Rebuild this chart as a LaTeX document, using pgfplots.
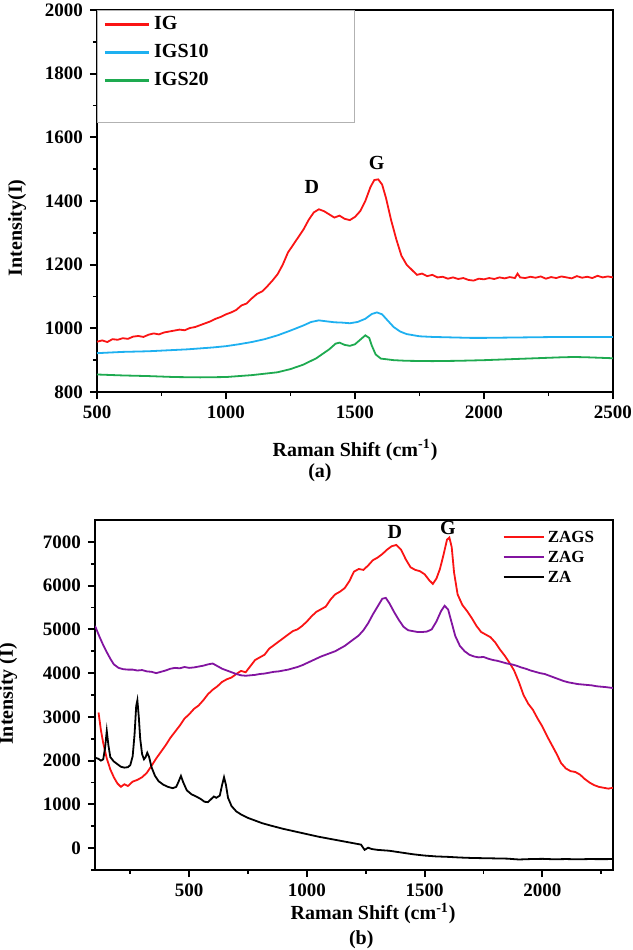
\documentclass[border=0pt]{standalone}
\usepackage{fontspec}
\setmainfont{Liberation Serif}
\usepackage{pgfplots}
\pgfplotsset{compat=1.18}

\definecolor{igred}{RGB}{250,20,20}
\definecolor{igblue}{RGB}{30,176,240}
\definecolor{iggreen}{RGB}{30,170,80}
\definecolor{zagpurple}{RGB}{130,20,160}

\pgfplotsset{
  raman/.style={
    scale only axis,
    clip mode=individual,
    axis line style={line width=1pt},
    tick align=outside,
    tick pos=left,
    major tick length=3.5pt,
    minor tick length=2pt,
    every tick/.append style={line width=0.9pt, black},
    /pgf/number format/1000 sep={},
    /pgf/number format/assume math mode=true,
    tick label style={font=\fontsize{9.5}{11}\selectfont\bfseries},
    label style={font=\fontsize{10}{12}\selectfont\bfseries},
    every axis plot/.append style={line width=0.9pt},
    legend cell align=left,
  },
}

\begin{document}
\begin{tikzpicture}
\useasboundingbox (0,0) rectangle (316.5pt,475pt);

% ---- panel (a)
\begin{axis}[raman,
  at={(48.5pt,279pt)}, anchor=south west,
  width=258pt, height=191pt,
  xmin=500, xmax=2500, ymin=800, ymax=2000,
  xtick={500,1000,...,2500}, minor xtick={750,1250,...,2250},
  ytick={800,1000,...,2000}, minor ytick={900,1100,...,1900},
  xlabel={Raman Shift (cm\textsuperscript{-1})},
  ylabel={Intensity(I)},
  xlabel style={at={(axis description cs:0.5,-0.152)}, anchor=center},
  ylabel style={at={(axis description cs:-0.155,0.43)}, anchor=center},
  legend style={at={(rel axis cs:0,1)}, anchor=north west, draw=none, fill=none,
    font=\fontsize{10}{12}\selectfont\bfseries, inner xsep=3pt, inner ysep=0pt,
    nodes={inner sep=2pt, text height=7.5pt, text depth=2.5pt}},
  legend image code/.code={\draw[#1, line width=1.4pt] (0pt,0pt) -- (22pt,0pt);},
]
\addplot[igred] table {
500 958
520 962
540 957
560 966
580 964
600 969
620 967
640 974
660 976
680 973
700 980
720 984
740 981
760 987
780 990
800 993
820 996
840 994
860 1001
880 1004
900 1010
920 1016
940 1022
960 1030
980 1036
1000 1044
1020 1050
1040 1058
1060 1072
1080 1078
1100 1094
1120 1108
1140 1116
1160 1132
1180 1150
1200 1170
1220 1200
1240 1238
1260 1262
1280 1286
1300 1310
1320 1340
1340 1364
1360 1374
1380 1368
1400 1358
1420 1348
1440 1354
1460 1344
1480 1340
1500 1350
1520 1368
1540 1400
1560 1444
1575 1466
1590 1468
1605 1452
1620 1410
1640 1340
1660 1280
1680 1228
1700 1200
1720 1184
1740 1168
1760 1172
1780 1164
1800 1168
1820 1160
1840 1162
1860 1156
1880 1160
1900 1155
1920 1158
1940 1152
1960 1150
1980 1156
2000 1154
2020 1158
2040 1155
2060 1160
2080 1157
2100 1161
2120 1158
2130 1172
2140 1160
2160 1158
2180 1162
2200 1159
2220 1163
2240 1156
2260 1161
2280 1158
2300 1163
2320 1160
2340 1157
2360 1164
2380 1159
2400 1162
2420 1158
2440 1165
2460 1160
2480 1163
2500 1160
};
\addlegendentry{IG}
\addplot[igblue] table {
500 922
550 924
600 926
650 927
700 928
750 930
800 932
850 934
900 937
950 940
1000 944
1050 950
1100 957
1150 966
1200 978
1250 993
1300 1009
1330 1020
1360 1025
1390 1022
1420 1019
1450 1018
1480 1016
1510 1020
1540 1030
1565 1045
1585 1050
1605 1044
1625 1026
1650 1004
1675 990
1700 982
1750 975
1800 973
1850 972
1900 971
1950 970
2000 970
2100 971
2200 972
2300 973
2400 973
2500 973
};
\addlegendentry{IGS10}
\addplot[iggreen] table {
500 855
600 852
700 850
800 847
900 846
1000 847
1100 853
1200 862
1250 872
1300 886
1350 906
1400 934
1425 952
1440 955
1460 948
1480 945
1500 950
1520 964
1540 978
1555 970
1565 946
1580 918
1600 905
1650 900
1700 898
1800 897
1900 898
2000 900
2100 903
2200 906
2300 909
2350 910
2400 909
2500 906
};
\addlegendentry{IGS20}
\draw[gray!60, line width=0.4pt] (rel axis cs:0,1) rectangle (rel axis cs:0.498,0.707);
\node[font=\fontsize{10}{12}\selectfont\bfseries] at (axis cs:1333,1443) {D};
\node[font=\fontsize{10}{12}\selectfont\bfseries] at (axis cs:1584,1518) {G};
\node[font=\fontsize{10}{12}\selectfont\bfseries] at (rel axis cs:0.432,-0.212) {(a)};
\end{axis}

% ---- panel (b)
\begin{axis}[raman,
  at={(47.5pt,40pt)}, anchor=south west,
  width=259pt, height=175pt,
  xmin=100, xmax=2300, ymin=-500, ymax=7500,
  xtick={500,1000,...,2000}, minor xtick={250,750,...,2250},
  ytick={0,1000,...,7000}, minor ytick={-500,500,...,6500},
  xlabel={Raman Shift (cm\textsuperscript{-1})},
  ylabel={Intensity (I)},
  xlabel style={at={(axis description cs:0.537,-0.124)}, anchor=center},
  ylabel style={at={(axis description cs:-0.168,0.503)}, anchor=center},
  legend style={at={(rel axis cs:0.78,0.995)}, anchor=north west, draw=none, fill=none,
    font=\fontsize{8.5}{10}\selectfont\bfseries, inner xsep=1.5pt, inner ysep=2.5pt,
    nodes={inner sep=1.5pt, text height=6pt, text depth=1pt}},
  legend image code/.code={\draw[#1, line width=1.2pt] (0pt,0pt) -- (20pt,0pt);},
]
\addplot[igred] table {
115 3100
125 2700
135 2400
150 2050
165 1800
180 1620
195 1480
210 1400
225 1460
240 1420
260 1520
280 1560
300 1620
320 1720
340 1880
360 2050
380 2200
400 2350
420 2520
440 2660
460 2800
480 2960
500 3060
520 3180
540 3260
560 3380
580 3520
600 3620
620 3700
640 3800
660 3860
680 3900
700 3980
720 4050
740 4020
760 4160
780 4300
800 4360
820 4420
840 4560
860 4640
880 4720
900 4800
920 4880
940 4960
960 5000
980 5080
1000 5180
1020 5300
1040 5400
1060 5460
1080 5520
1100 5680
1120 5800
1140 5860
1160 5940
1180 6100
1200 6320
1220 6380
1240 6360
1260 6460
1280 6580
1300 6640
1320 6720
1340 6820
1360 6900
1380 6930
1400 6820
1420 6600
1440 6420
1460 6360
1480 6330
1500 6260
1520 6120
1535 6040
1550 6160
1565 6380
1580 6700
1595 7050
1605 7100
1615 6880
1625 6300
1640 5800
1660 5560
1680 5420
1700 5260
1720 5080
1740 4940
1760 4880
1780 4820
1800 4700
1820 4540
1840 4400
1860 4240
1880 4060
1900 3800
1920 3500
1940 3300
1960 3160
1980 2960
2000 2780
2020 2560
2040 2360
2060 2160
2080 1940
2100 1820
2120 1760
2140 1740
2160 1680
2180 1580
2200 1500
2220 1440
2240 1400
2260 1380
2280 1360
2300 1380
};
\addlegendentry{ZAGS}
\addplot[zagpurple] table {
100 5080
110 4950
120 4820
135 4640
150 4480
165 4330
180 4200
200 4120
220 4090
240 4080
260 4080
280 4060
300 4070
320 4040
340 4030
360 4000
380 4030
400 4060
420 4100
440 4120
460 4110
480 4140
500 4120
520 4130
540 4150
560 4170
580 4200
600 4220
620 4160
640 4100
660 4060
680 4020
700 3980
720 3950
740 3940
760 3950
780 3960
800 3980
820 3990
840 4010
860 4030
880 4040
900 4060
920 4080
940 4110
960 4140
980 4180
1000 4230
1020 4280
1040 4330
1060 4380
1080 4420
1100 4460
1120 4500
1140 4560
1160 4620
1180 4700
1200 4780
1220 4860
1240 4980
1260 5140
1280 5340
1300 5520
1320 5700
1335 5720
1350 5600
1370 5400
1390 5220
1410 5060
1430 4980
1450 4960
1470 4940
1490 4940
1510 4950
1530 5000
1550 5180
1570 5420
1585 5540
1600 5450
1615 5150
1630 4850
1650 4620
1670 4500
1690 4420
1710 4380
1730 4360
1750 4370
1770 4330
1790 4300
1810 4280
1830 4250
1850 4220
1870 4200
1890 4170
1910 4130
1930 4100
1950 4060
1970 4030
1990 4000
2010 3980
2030 3940
2050 3900
2070 3860
2090 3820
2110 3790
2130 3770
2150 3750
2170 3740
2190 3730
2210 3720
2230 3700
2250 3690
2270 3680
2300 3660
};
\addlegendentry{ZAG}
\addplot[black] table {
100 2070
115 2040
125 2000
135 2030
143 2300
150 2680
157 2350
165 2080
180 1980
195 1920
210 1860
225 1840
240 1850
250 1900
260 2100
268 2600
275 3250
280 3380
286 3000
292 2500
300 2150
308 2030
315 2080
322 2180
330 2080
340 1850
355 1650
370 1530
390 1450
410 1400
430 1370
445 1400
455 1520
465 1650
475 1500
490 1320
510 1230
530 1180
550 1120
565 1060
580 1050
595 1130
605 1180
615 1150
630 1200
640 1450
648 1620
656 1450
665 1150
680 960
700 840
720 770
750 690
780 630
810 570
850 510
900 440
950 380
1000 320
1050 260
1100 210
1150 160
1200 110
1230 80
1245 -40
1260 10
1275 -20
1300 -40
1350 -60
1400 -100
1450 -140
1500 -170
1550 -190
1600 -200
1650 -215
1700 -225
1750 -230
1800 -235
1850 -240
1900 -260
1950 -250
2000 -245
2050 -255
2100 -250
2150 -255
2200 -250
2250 -252
2300 -250
};
\addlegendentry{ZA}
\node[font=\fontsize{10}{12}\selectfont\bfseries] at (axis cs:1373,7232) {D};
\node[font=\fontsize{10}{12}\selectfont\bfseries] at (axis cs:1599,7309) {G};
\node[font=\fontsize{10}{12}\selectfont\bfseries] at (rel axis cs:0.514,-0.2) {(b)};
\end{axis}
\end{tikzpicture}
\end{document}
